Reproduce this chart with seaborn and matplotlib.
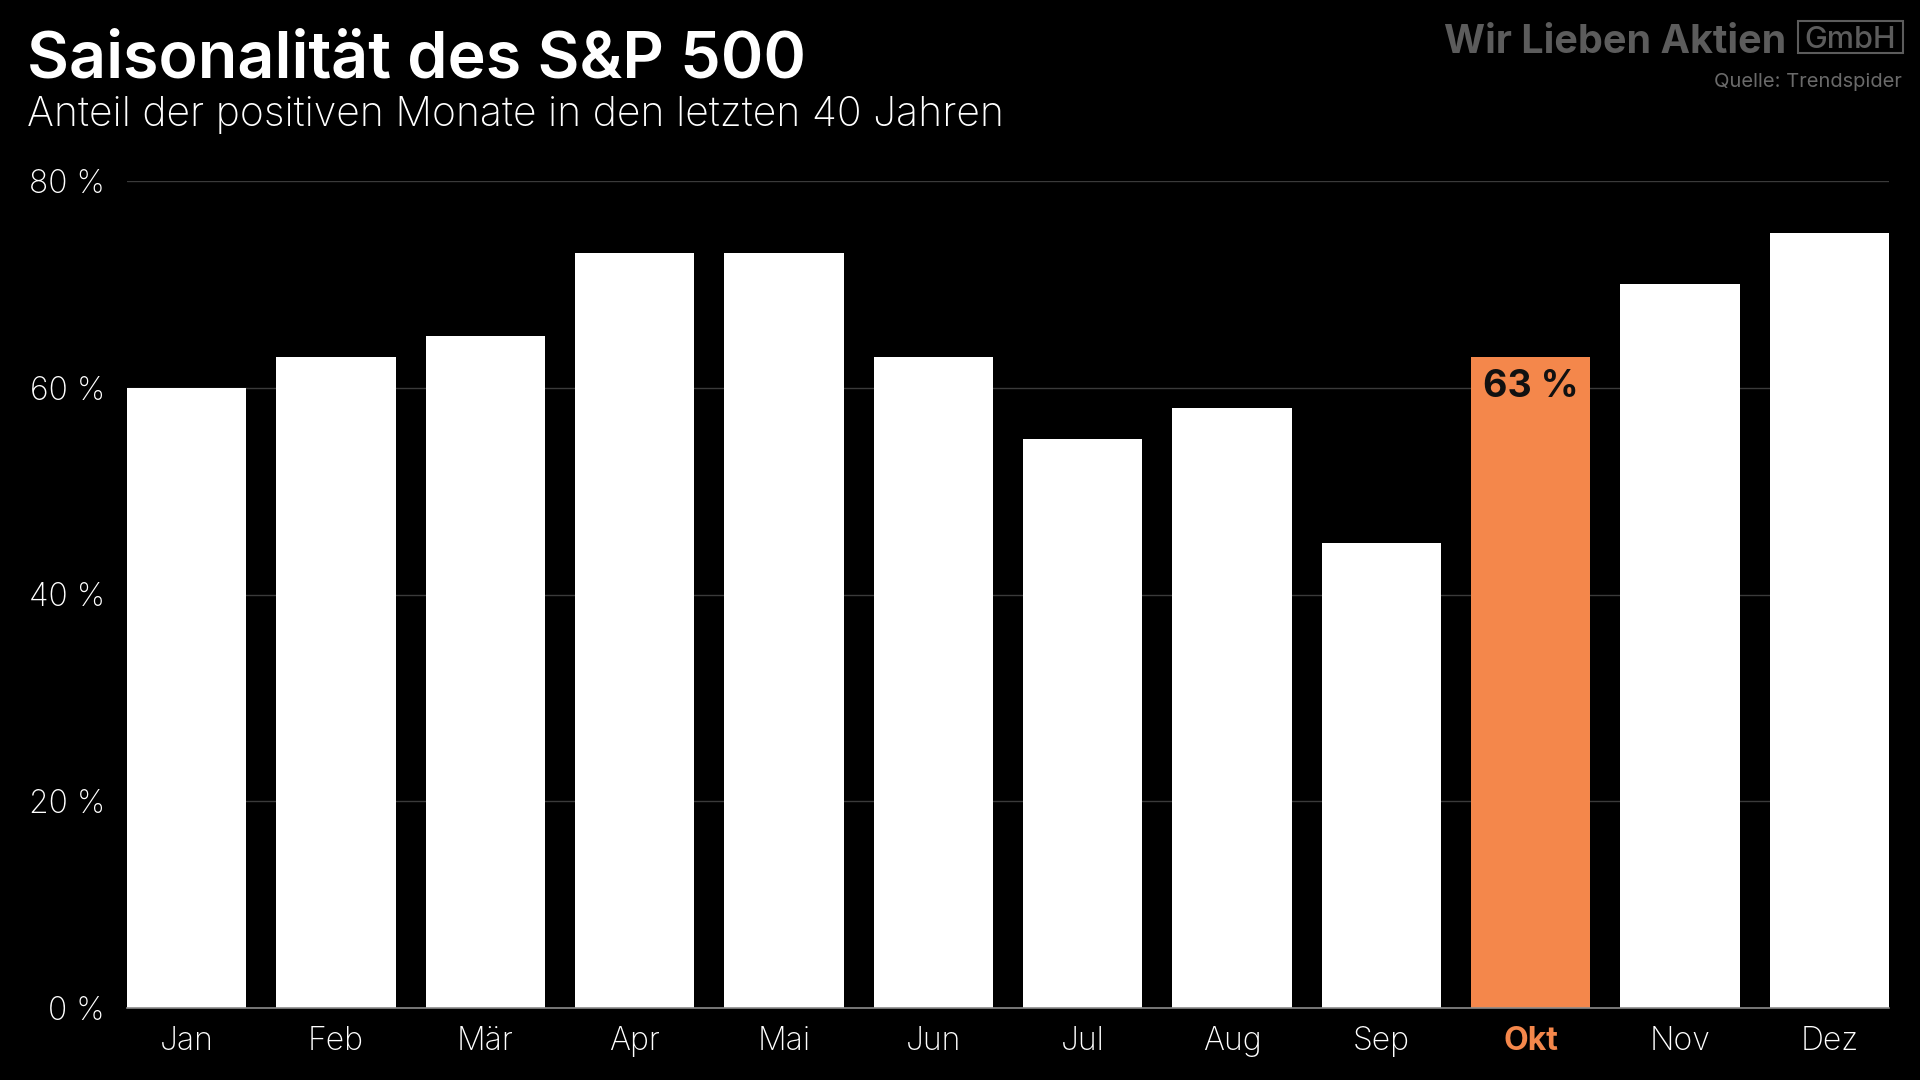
import matplotlib
matplotlib.use("Agg")
import matplotlib.pyplot as plt
import seaborn as sns
from matplotlib.patches import FancyBboxPatch

# data
months = ["Jan", "Feb", "Mär", "Apr", "Mai", "Jun", "Jul", "Aug", "Sep", "Okt", "Nov", "Dez"]
share_positive = [60, 63, 65, 73, 73, 63, 55, 58, 45, 63, 70, 75]
highlight = "Okt"
y_ticks = [0, 20, 40, 60, 80]

ORANGE = "#F4874B"
BG = "#000000"

sns.set_theme(style="dark")
plt.rcParams["font.family"] = ["Inter", "DejaVu Sans"]

fig = plt.figure(figsize=(19.2, 10.8), dpi=100, facecolor=BG)
ax = fig.add_axes([127 / 1920, 72 / 1080, 1762 / 1920, 827 / 1080])
ax.set_facecolor(BG)

palette = {m: (ORANGE if m == highlight else "#FFFFFF") for m in months}
sns.barplot(x=months, y=share_positive, hue=months, palette=palette,
            legend=False, width=0.8, saturation=1, linewidth=0, ax=ax, zorder=2)

ax.set_xlim(-0.4, len(months) - 0.6)
ax.set_ylim(0, 80)
ax.set_yticks(y_ticks)
ax.set_yticklabels([f"{t} %" for t in y_ticks])
ax.yaxis.grid(True, color="#3a3a3a", linewidth=1, zorder=0)
ax.xaxis.grid(False)
ax.set_axisbelow(True)

for s in ["top", "right", "left"]:
    ax.spines[s].set_visible(False)
ax.spines["bottom"].set_visible(True)
ax.spines["bottom"].set_color("#8a8a8a")
ax.spines["bottom"].set_linewidth(1.2)
ax.spines["bottom"].set_zorder(3)

ax.tick_params(axis="both", length=0, labelsize=23, labelcolor="white")
ax.tick_params(axis="y", pad=16)
ax.tick_params(axis="x", pad=13)
for lab in ax.get_yticklabels() + ax.get_xticklabels():
    lab.set_fontweight("light")
for lab in ax.get_xticklabels():
    if lab.get_text() == highlight:
        lab.set_color(ORANGE)
        lab.set_fontweight("bold")
ax.set_xlabel("")
ax.set_ylabel("")

# value label on the highlighted bar
i = months.index(highlight)
ax.annotate(f"{share_positive[i]} %", (i, share_positive[i]), xytext=(0, -30),
            textcoords="offset pixels", ha="center", va="center",
            fontsize=27, fontweight="bold", color="#111111", zorder=4)

# titles
fig.text(27 / 1920, 1 - 78 / 1080, "Saisonalität des S&P 500", color="white",
         fontsize=46.5, fontweight="semibold", ha="left", va="baseline")
fig.text(27 / 1920, 1 - 126 / 1080, "Anteil der positiven Monate in den letzten 40 Jahren",
         color="white", fontsize=29.5, fontweight="light", ha="left", va="baseline")

# logo and source
fig.text(1786 / 1920, 1 - 53 / 1080, "Wir Lieben Aktien", color="#5c5c5c",
         fontsize=28.5, fontweight="bold", ha="right", va="baseline")
fig.text(1850 / 1920, 1 - 48 / 1080, "GmbH", color="#5c5c5c",
         fontsize=22, fontweight="medium", ha="center", va="baseline")
fig.add_artist(FancyBboxPatch((1798 / 1920, 1 - 53 / 1080), 105 / 1920, 32 / 1080,
                              boxstyle="square,pad=0", transform=fig.transFigure,
                              facecolor="none", edgecolor="#5c5c5c", linewidth=1.5))
fig.text(1902 / 1920, 1 - 87 / 1080, "Quelle: Trendspider", color="#6a6a6a",
         fontsize=14.5, ha="right", va="baseline")

fig.savefig("out.png", dpi=100, facecolor=BG)
